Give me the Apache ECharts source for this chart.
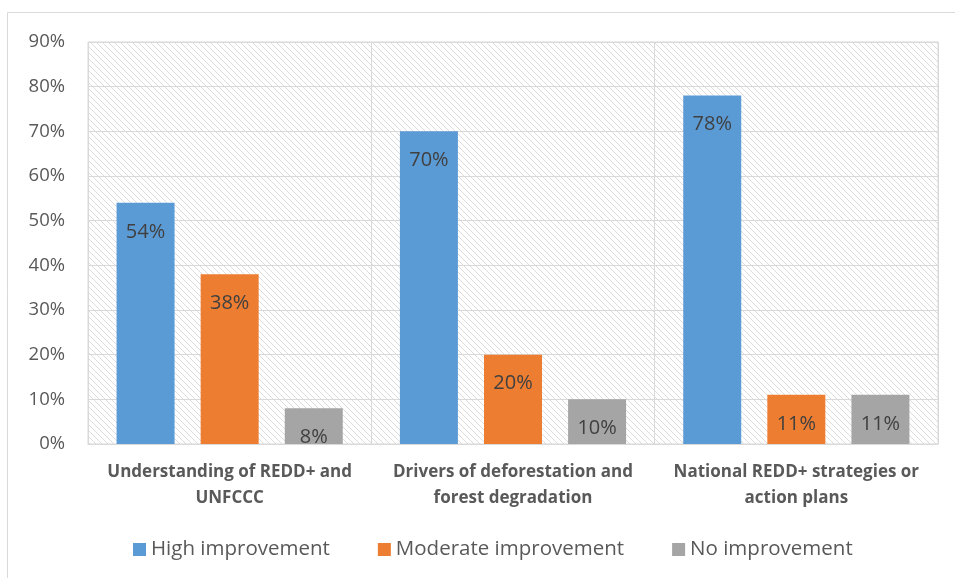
<!DOCTYPE html>
<html>
<head>
<meta charset="utf-8"/>
<title>REDD+ improvement</title>
<script src="https://cdn.jsdelivr.net/npm/echarts@6/dist/echarts.min.js"></script>
<style>
	body { margin: 0; padding: 0; background: #fff; }
	#chart { width: 955px; height: 578px; }
</style>
</head>
<body>
<div id="chart"></div>
<script>
	// data
	var categories = ['Understanding of REDD+ and\nUNFCCC', 'Drivers of deforestation and\nforest degradation', 'National REDD+ strategies or\naction plans'];
	var seriesNames = ['High improvement', 'Moderate improvement', 'No improvement'];
	var highVals = [54, 70, 78];
	var moderateVals = [38, 20, 11];
	var noVals = [8, 10, 11];
	var colors = ['#5b9bd5', '#ed7d31', '#a5a5a5'];

	// hatch pattern for plot background
	function makeHatch() {
		var c = document.createElement('canvas');
		c.width = 6; c.height = 6;
		var ctx = c.getContext('2d');
		ctx.fillStyle = '#ffffff';
		ctx.fillRect(0, 0, 6, 6);
		ctx.strokeStyle = '#dcdcdc';
		ctx.lineWidth = 1;
		ctx.beginPath();
		ctx.moveTo(-1, -1); ctx.lineTo(7, 7);
		ctx.moveTo(-1, 5); ctx.lineTo(1, 7);
		ctx.moveTo(5, -1); ctx.lineTo(7, 1);
		ctx.stroke();
		return c;
	}

	var font = '"Open Sans", "Noto Sans", sans-serif';
	var chart = echarts.init(document.getElementById('chart'));

	function bar(name, vals, color) {
		return {
			name: name,
			type: 'bar',
			data: vals,
			barWidth: 58,
			barGap: '45%',
			itemStyle: { color: color },
			label: {
				show: true,
				position: 'insideTop',
				distance: 19,
				formatter: '{c}%',
				fontFamily: font,
				fontSize: 20,
				color: '#404040'
			}
		};
	}

	var option = {
		animation: false,
		graphic: [{
			type: 'rect',
			shape: { x: 7.5, y: 12.5, width: 1000, height: 1000 },
			style: { fill: 'none', stroke: '#d9d9d9', lineWidth: 1 },
			z: -10
		}],
		grid: {
			left: 88, right: 17, top: 42, bottom: 134,
			show: true,
			backgroundColor: { image: makeHatch(), repeat: 'repeat' },
			borderColor: '#d9d9d9',
			borderWidth: 1
		},
		legend: {
			bottom: 13,
			left: 128,
			itemWidth: 13,
			itemHeight: 13,
			itemGap: 48,
			icon: 'rect',
			textStyle: { fontFamily: font, fontSize: 20.5, color: '#595959' },
			data: seriesNames
		},
		xAxis: {
			type: 'category',
			data: categories,
			axisLine: { lineStyle: { color: '#d9d9d9' } },
			axisTick: { show: false },
			splitLine: { show: true, interval: 0, lineStyle: { color: '#d9d9d9', width: 1 } },
			axisLabel: {
				interval: 0,
				hideOverlap: false,
				margin: 15,
				fontFamily: font,
				fontSize: 17,
				fontWeight: 'bold',
				color: '#595959',
				lineHeight: 26
			}
		},
		yAxis: {
			type: 'value',
			min: 0,
			max: 90,
			interval: 10,
			axisLine: { show: false },
			axisTick: { show: false },
			splitLine: { lineStyle: { color: '#d9d9d9', width: 1 } },
			axisLabel: {
				formatter: '{value}%',
				margin: 23,
				fontFamily: font,
				fontSize: 18.5,
				color: '#595959'
			}
		},
		series: [
			bar(seriesNames[0], highVals, colors[0]),
			bar(seriesNames[1], moderateVals, colors[1]),
			bar(seriesNames[2], noVals, colors[2])
		]
	};
	chart.setOption(option);
</script>
</body>
</html>
